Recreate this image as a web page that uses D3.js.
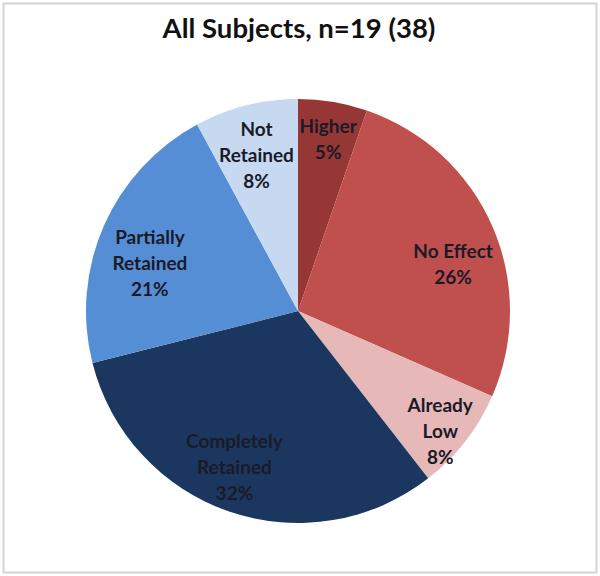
<!DOCTYPE html>
<html>
<head>
<meta charset="utf-8">
<script src="https://cdn.jsdelivr.net/npm/d3@7"></script>
<style>
  body { margin: 0; background: #fff; }
  svg { display: block; }
</style>
</head>
<body>
<div id="chart"><svg></svg></div>
<script>
const width = 600;
const height = 576;

// counts out of 38 limbs
const categories = ['Higher', 'No Effect', 'Already Low', 'Completely Retained', 'Partially Retained', 'Not Retained'];
const counts = [2, 10, 3, 12, 8, 3];
const percentLabels = ['5%', '26%', '8%', '32%', '21%', '8%'];
const labelLines = [['Higher'], ['No Effect'], ['Already', 'Low'], ['Completely', 'Retained'], ['Partially', 'Retained'], ['Not', 'Retained']];
const colors = ['#963735', '#c0504d', '#e6b9b8', '#1b375f', '#558ed5', '#c6d9f1'];
const title = 'All Subjects, n=19 (38)';

const cx = 298;
const cy = 311;
const radius = 212;
const labelRadius = 165;
// small nudges so labels sit where the original put them
const labelNudge = [[3, -9], [4, 20], [12, 19], [-10, 0], [3, 19], [-1, 4]];
const lineHeight = 26;

const svg = d3.select('#chart svg')
  .attr('width', width)
  .attr('height', height);

svg.append('rect')
  .attr('x', 3.5)
  .attr('y', 3.5)
  .attr('width', width - 7)
  .attr('height', height - 7)
  .attr('fill', 'white')
  .attr('stroke', '#d4d4d4')
  .attr('stroke-width', 2);

svg.append('text')
  .attr('x', 299)
  .attr('y', 38)
  .attr('text-anchor', 'middle')
  .attr('font-family', 'Lato, "Open Sans", sans-serif')
  .attr('font-weight', 700)
  .attr('font-size', 27.5)
  .attr('fill', '#111')
  .text(title);

const pie = d3.pie().sort(null).value(d => d);
const arcs = pie(counts);

const arc = d3.arc().innerRadius(0).outerRadius(radius);
const labelArc = d3.arc().innerRadius(labelRadius).outerRadius(labelRadius);

const g = svg.append('g').attr('transform', `translate(${cx},${cy})`);

g.selectAll('path.slice')
  .data(arcs)
  .join('path')
  .attr('class', 'slice')
  .attr('d', arc)
  .attr('fill', (d, i) => colors[i]);

const labels = g.selectAll('text.label')
  .data(arcs)
  .join('text')
  .attr('class', 'label')
  .attr('text-anchor', 'middle')
  .attr('font-family', 'Lato, "Open Sans", sans-serif')
  .attr('font-weight', 700)
  .attr('font-size', 19)
  .attr('fill', '#1a1a28')
  .attr('transform', (d, i) => {
    let c = labelArc.centroid(d);
    return `translate(${c[0] + labelNudge[i][0]},${c[1] + labelNudge[i][1]})`;
  });

labels.each(function(d, i) {
  let lines = labelLines[i].concat([percentLabels[i]]);
  let top = -(lines.length - 1) * lineHeight / 2;
  d3.select(this).selectAll('tspan')
    .data(lines)
    .join('tspan')
    .attr('x', 0)
    .attr('y', (t, j) => top + j * lineHeight)
    .attr('dy', '0.35em')
    .text(t => t);
});
</script>
</body>
</html>
